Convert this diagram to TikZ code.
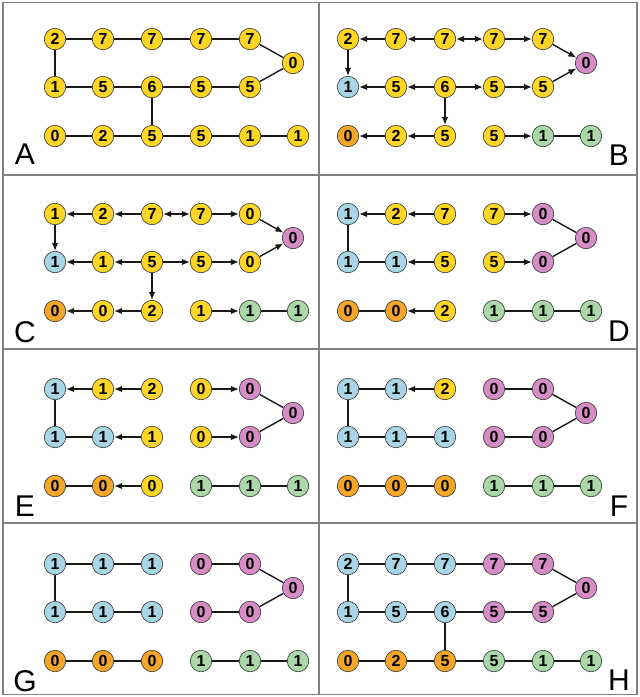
\documentclass[tikz,border=0pt]{standalone}
\usepackage{fontspec}
\setmainfont{Liberation Sans}
\usetikzlibrary{arrows.meta}
\definecolor{cY}{RGB}{255,214,38}
\definecolor{cB}{RGB}{168,214,228}
\definecolor{cP}{RGB}{214,140,196}
\definecolor{cO}{RGB}{245,166,40}
\definecolor{cG}{RGB}{170,216,168}
\tikzset{
  nd/.style={circle,draw=black!80,line width=0.6pt,minimum size=21.5pt,inner sep=0pt,font=\fontsize{16}{16}\selectfont\bfseries},
  ln/.style={line width=1.4pt,black!90},
  ar/.style={ln,-{Latex[length=8pt,width=6.5pt]}},
  ba/.style={ln,{Latex[length=8pt,width=6.5pt]}-{Latex[length=8pt,width=6.5pt]}},
  lab/.style={font=\fontsize{30}{30}\selectfont},
  frame/.style={draw=black!50,line width=1.5pt}
}
\newcommand\mkgrid{%
  \coordinate (a1) at (55,39); \coordinate (a2) at (103,39); \coordinate (a3) at (152,39);
  \coordinate (a4) at (201,39); \coordinate (a5) at (250,39); \coordinate (h) at (293,63);
  \coordinate (b1) at (55,87); \coordinate (b2) at (103,87); \coordinate (b3) at (152,87);
  \coordinate (b4) at (201,87); \coordinate (b5) at (250,87);
  \coordinate (c1) at (55,136); \coordinate (c2) at (103,136); \coordinate (c3) at (152,136);
  \coordinate (c4) at (201,136); \coordinate (c5) at (250,136); \coordinate (c6) at (298,136);}
\newcommand\mknodes[2]{\foreach \n/\l/\c in {#2} {\node[nd,fill=\c] (#1\n) at (\n) {\l};}}
\newcommand\plain[2]{\foreach \u/\v in {#2} {\draw[ln] (#1\u) -- (#1\v);}}
\newcommand\arrs[2]{\foreach \u/\v in {#2} {\draw[ar] (#1\u) -- (#1\v);}}
\begin{document}
\begin{tikzpicture}[x=1pt,y=-1pt]
\useasboundingbox (0,0) rectangle (640,697);
\draw[frame] (3,2.5) rectangle (637,694.5);
\draw[frame] (319,2.5) -- (319,694.5);
\draw[frame] (3,175) -- (637,175);
\draw[frame] (3,349) -- (637,349);
\draw[frame] (3,523) -- (637,523);
% A
\begin{scope}[shift={(0,0)}]
\mkgrid
\mknodes{A}{a1/2/cY,a2/7/cY,a3/7/cY,a4/7/cY,a5/7/cY,h/0/cY,b1/1/cY,b2/5/cY,b3/6/cY,b4/5/cY,b5/5/cY,c1/0/cY,c2/2/cY,c3/5/cY,c4/5/cY,c5/1/cY,c6/1/cY}
\plain{A}{a1/a2,a2/a3,a3/a4,a4/a5,a5/h,a1/b1,b1/b2,b2/b3,b3/b4,b4/b5,b5/h,b3/c3,c1/c2,c2/c3,c3/c4,c4/c5,c5/c6}
\node[lab] (LA) at (25,154) {A};
\end{scope}
% B
\begin{scope}[shift={(293,0)}]
\mkgrid
\mknodes{B}{a1/2/cY,a2/7/cY,a3/7/cY,a4/7/cY,a5/7/cY,h/0/cP,b1/1/cB,b2/5/cY,b3/6/cY,b4/5/cY,b5/5/cY,c1/0/cO,c2/2/cY,c3/5/cY,c4/5/cY,c5/1/cG,c6/1/cG}
\plain{B}{c5/c6}
\arrs{B}{a2/a1,a3/a2,a4/a5,a5/h,a1/b1,b2/b1,b3/b2,b3/b4,b4/b5,b5/h,b3/c3,c3/c2,c2/c1,c4/c5}
\draw[ba] (Ba3) -- (Ba4);
\node[lab] (LB) at (326,155) {B};
\end{scope}
% C
\begin{scope}[shift={(0,175)}]
\mkgrid
\mknodes{C}{a1/1/cY,a2/2/cY,a3/7/cY,a4/7/cY,a5/0/cY,h/0/cP,b1/1/cB,b2/1/cY,b3/5/cY,b4/5/cY,b5/0/cY,c1/0/cO,c2/0/cY,c3/2/cY,c4/1/cY,c5/1/cG,c6/1/cG}
\plain{C}{c5/c6}
\arrs{C}{a2/a1,a3/a2,a4/a5,a5/h,a1/b1,b2/b1,b3/b2,b3/b4,b4/b5,b5/h,b3/c3,c3/c2,c2/c1,c4/c5}
\draw[ba] (Ca3) -- (Ca4);
\node[lab] (LC) at (25,157) {C};
\end{scope}
% D
\begin{scope}[shift={(293,175)}]
\mkgrid
\mknodes{D}{a1/1/cB,a2/2/cY,a3/7/cY,a4/7/cY,a5/0/cP,h/0/cP,b1/1/cB,b2/1/cB,b3/5/cY,b4/5/cY,b5/0/cP,c1/0/cO,c2/0/cO,c3/2/cY,c4/1/cG,c5/1/cG,c6/1/cG}
\plain{D}{a1/b1,b1/b2,a5/h,b5/h,c1/c2,c4/c5,c5/c6}
\arrs{D}{a2/a1,a3/a2,b3/b2,a4/a5,b4/b5,c3/c2}
\node[lab] (LD) at (326,156) {D};
\end{scope}
% E
\begin{scope}[shift={(0,350)}]
\mkgrid
\mknodes{E}{a1/1/cB,a2/1/cY,a3/2/cY,a4/0/cY,a5/0/cP,h/0/cP,b1/1/cB,b2/1/cB,b3/1/cY,b4/0/cY,b5/0/cP,c1/0/cO,c2/0/cO,c3/0/cY,c4/1/cG,c5/1/cG,c6/1/cG}
\plain{E}{a1/b1,b1/b2,a5/h,b5/h,c1/c2,c4/c5,c5/c6}
\arrs{E}{a2/a1,a3/a2,b3/b2,a4/a5,b4/b5,c3/c2}
\node[lab] (LE) at (25,156) {E};
\end{scope}
% F
\begin{scope}[shift={(293,350)}]
\mkgrid
\mknodes{F}{a1/1/cB,a2/1/cB,a3/2/cY,a4/0/cP,a5/0/cP,h/0/cP,b1/1/cB,b2/1/cB,b3/1/cB,b4/0/cP,b5/0/cP,c1/0/cO,c2/0/cO,c3/0/cO,c4/1/cG,c5/1/cG,c6/1/cG}
\plain{F}{a1/a2,a1/b1,b1/b2,b2/b3,c1/c2,c2/c3,a4/a5,a5/h,b5/h,b4/b5,c4/c5,c5/c6}
\arrs{F}{a3/a2}
\node[lab] (LF) at (326,156) {F};
\end{scope}
% G
\begin{scope}[shift={(0,525)}]
\mkgrid
\mknodes{G}{a1/1/cB,a2/1/cB,a3/1/cB,a4/0/cP,a5/0/cP,h/0/cP,b1/1/cB,b2/1/cB,b3/1/cB,b4/0/cP,b5/0/cP,c1/0/cO,c2/0/cO,c3/0/cO,c4/1/cG,c5/1/cG,c6/1/cG}
\plain{G}{a1/a2,a2/a3,a1/b1,b1/b2,b2/b3,c1/c2,c2/c3,a4/a5,a5/h,b5/h,b4/b5,c4/c5,c5/c6}
\node[lab] (LG) at (25,156) {G};
\end{scope}
% H
\begin{scope}[shift={(293,525)}]
\mkgrid
\mknodes{H}{a1/2/cB,a2/7/cB,a3/7/cB,a4/7/cP,a5/7/cP,h/0/cP,b1/1/cB,b2/5/cB,b3/6/cB,b4/5/cP,b5/5/cP,c1/0/cO,c2/2/cO,c3/5/cO,c4/5/cG,c5/1/cG,c6/1/cG}
\plain{H}{a1/a2,a2/a3,a3/a4,a4/a5,a5/h,a1/b1,b1/b2,b2/b3,b3/b4,b4/b5,b5/h,b3/c3,c1/c2,c2/c3,c3/c4,c4/c5,c5/c6}
\node[lab] (LH) at (326,155) {H};
\end{scope}
\end{tikzpicture}
\end{document}
